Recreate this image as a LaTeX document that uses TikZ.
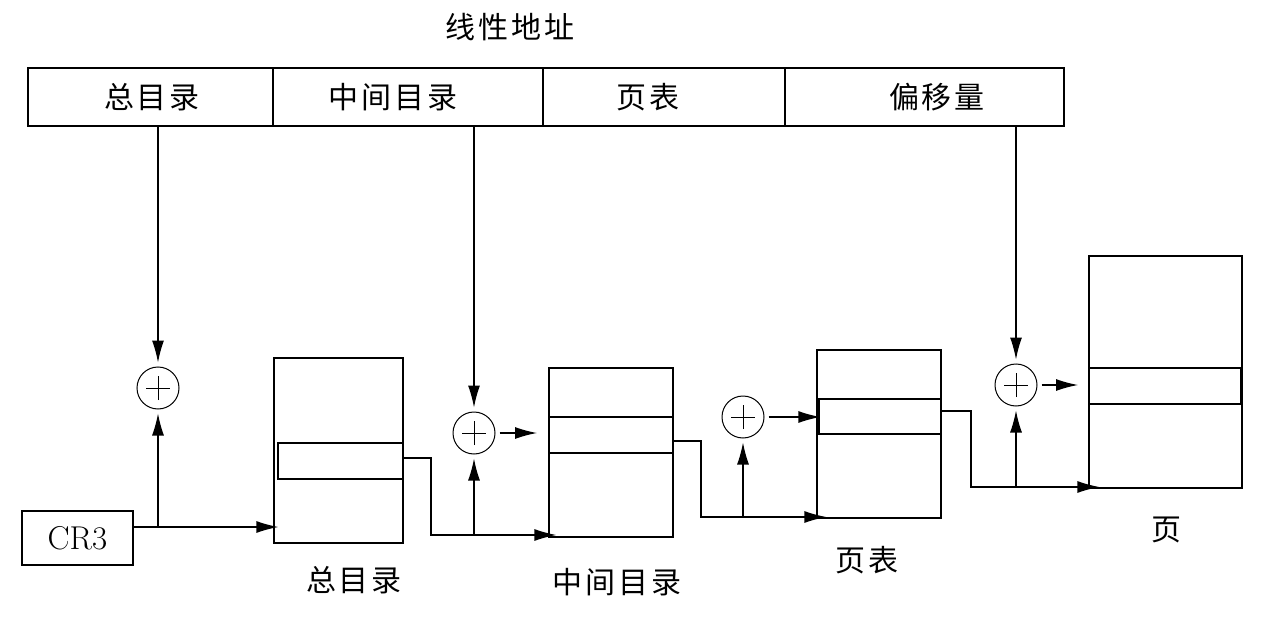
\documentclass[tikz,border=0pt]{standalone}
\usepackage{fontspec}
\newfontfamily\cjk[LetterSpace=9]{Noto Sans CJK SC}
\usetikzlibrary{arrows.meta}
\begin{document}
\begin{tikzpicture}[x=1pt,y=-1pt,
  ln/.style={line width=1.2pt},
  arr/.style={ln,-{Latex[length=22pt,width=12pt]}},
  cell/.style={draw,ln,rectangle,inner sep=0pt,minimum height=58pt},
  tbl/.style={draw,ln,rectangle,inner sep=0pt},
  cjklbl/.style={inner sep=0pt,font=\cjk\fontsize{30}{34}\selectfont},
  adder/.style={draw,circle,line width=1pt,minimum size=42pt,inner sep=0pt,
    path picture={\draw[line width=1pt]
      ([xshift=-12pt]path picture bounding box.center) -- ([xshift=12pt]path picture bounding box.center)
      ([yshift=-12pt]path picture bounding box.center) -- ([yshift=12pt]path picture bounding box.center);}}]
\useasboundingbox (0,0) rectangle (1270,618);
% title
\node[cjklbl] (title) at (510,27) {线性地址};
% linear address bar
\node[cell,minimum width=245pt] (c1) at (150.5,97) {};
\node[cell,minimum width=270pt] (c2) at (408,97) {};
\node[cell,minimum width=242pt] (c3) at (664,97) {};
\node[cell,minimum width=279pt] (c4) at (924.5,97) {};
\node[cjklbl] (l1) at (152,97) {总目录};
\node[cjklbl] (l2) at (393,97) {中间目录};
\node[cjklbl] (l3) at (648,97) {页表};
\node[cjklbl] (l4) at (937,97) {偏移量};
% CR3
\node[tbl,minimum width=111pt,minimum height=54pt,font=\fontsize{33}{36}\selectfont] (cr3) at (77.5,538) {CR3};
% tables
\node[tbl,minimum width=129pt,minimum height=185pt] (t1) at (338.5,450.5) {};
\draw[ln] (278,443) rectangle (403,479);
\node[tbl,minimum width=124pt,minimum height=169pt] (t2) at (611,452.5) {};
\draw[ln] (549,417) -- (673,417) (549,453) -- (673,453);
\node[tbl,minimum width=124pt,minimum height=168pt] (t3) at (879,434) {};
\draw[ln] (817,399) -- (941,399) (817,434) -- (941,434);
\draw[line width=2.5pt] (818.5,399) -- (818.5,434);
\node[tbl,minimum width=153pt,minimum height=232pt] (t4) at (1165.5,372) {};
\draw[ln] (1089,368) -- (1242,368) (1089,404) -- (1242,404);
\draw[line width=3pt] (1241.5,368) -- (1241.5,404);
% table labels
\node[cjklbl] (n1) at (354,580) {总目录};
\node[cjklbl] (n2) at (617,582) {中间目录};
\node[cjklbl] (n3) at (867,560) {页表};
\node[cjklbl] (n4) at (1166,530) {页};
% adders
\node[adder] (a1) at (158,388) {};
\node[adder] (a2) at (474,433) {};
\node[adder] (a3) at (743,417) {};
\node[adder] (a4) at (1016,385) {};
% junctions and free ends
\coordinate (j1) at (158,527);
\coordinate (j2) at (474,535);
\coordinate (j3) at (743,517);
\coordinate (j4) at (1016,487);
\coordinate (e2) at (537,433);
\coordinate (e4) at (1078,385);
% connectors from linear address
\draw[arr,shorten >=4pt] (c1.south -| a1) -- (a1.north);
\draw[arr,shorten >=4pt] (c2.south -| a2) -- (a2.north);
\draw[arr,shorten >=4pt] (c4.south -| a4) -- (a4.north);
% CR3 -> directory
\draw[arr] (cr3.east |- j1) -- ([xshift=5pt]t1.west |- j1);
\draw[arr,shorten >=4pt] (j1) -- (a1.south);
% directory -> middle
\draw[arr] (t1.east |- 0,458) -- (431,458) -- (431,535) -- ([xshift=8pt]t2.west |- j2);
\draw[arr,shorten >=4pt] (j2) -- (a2.south);
\draw[arr,shorten <=4pt] (a2.east) -- (e2);
% middle -> page table
\draw[arr] (t2.east |- 0,441) -- (701,441) -- (701,517) -- ([xshift=10pt]t3.west |- j3);
\draw[arr,shorten >=4pt] (j3) -- (a3.south);
\draw[arr,shorten <=4pt] (a3.east) -- ([xshift=4pt]t3.west |- a3);
% page table -> page
\draw[arr] (t3.east |- 0,411) -- (971,411) -- (971,487) -- ([xshift=11pt]t4.west |- j4);
\draw[arr,shorten >=4pt] (j4) -- (a4.south);
\draw[arr,shorten <=4pt] (a4.east) -- (e4);
\end{tikzpicture}
\end{document}
